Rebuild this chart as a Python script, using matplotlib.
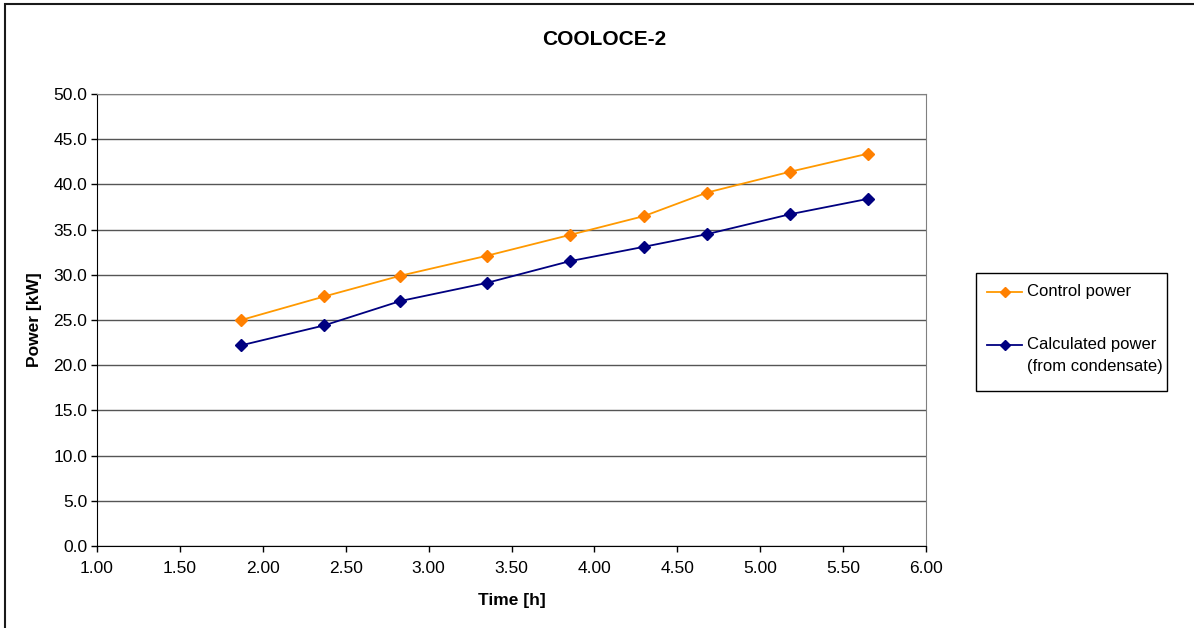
import matplotlib.pyplot as plt
from matplotlib.patches import Rectangle
from matplotlib.lines import Line2D

plt.rcParams['font.family'] = ['Liberation Sans', 'DejaVu Sans']

# data
time_h = [1.87, 2.37, 2.83, 3.35, 3.85, 4.30, 4.68, 5.18, 5.65]
control_power = [25.0, 27.6, 29.9, 32.1, 34.4, 36.5, 39.1, 41.4, 43.4]
calc_power = [22.2, 24.4, 27.1, 29.1, 31.5, 33.1, 34.5, 36.7, 38.4]

series_labels = ['Control power', 'Calculated power\n(from condensate)']
series_colors = ['#FF9900', '#000080']
marker_colors = ['#FF8000', '#000080']

y_ticks = [0, 5, 10, 15, 20, 25, 30, 35, 40, 45, 50]
x_ticks = [1.0, 1.5, 2.0, 2.5, 3.0, 3.5, 4.0, 4.5, 5.0, 5.5, 6.0]

W, H = 1194, 628
fig = plt.figure(figsize=(W / 100, H / 100), dpi=100)
ax = fig.add_axes([97 / W, 1 - 546 / H, 829 / W, 452 / H])

# outer chart border (right and bottom edges fall outside the image)
fig.patches.append(Rectangle((4.5 / W, -0.05), 1.1, 1.05 - 4.5 / H,
                             transform=fig.transFigure, fill=False,
                             edgecolor='#1a1a1a', linewidth=1.5))

for ys, lc, mc, lab in zip([control_power, calc_power], series_colors, marker_colors, series_labels):
    ax.plot(time_h, ys, color=lc, linewidth=1.3, marker='D', markersize=6,
            markerfacecolor=mc, markeredgecolor=mc, label=lab, zorder=3)

ax.set_xlim(1, 6)
ax.set_ylim(0, 50)
ax.set_xticks(x_ticks)
ax.set_xticklabels([f'{v:.2f}' for v in x_ticks])
ax.set_yticks(y_ticks)
ax.set_yticklabels([f'{v:.1f}' for v in y_ticks])
ax.tick_params(axis='both', labelsize=12.5, length=4, width=1, color='black', direction='out')
ax.tick_params(axis='x', pad=7)
ax.tick_params(axis='y', pad=3)

ax.yaxis.grid(True, color='#555555', linewidth=1)
ax.set_axisbelow(True)
for side in ['top', 'right']:
    ax.spines[side].set_color('#808080')
for side in ['left', 'bottom']:
    ax.spines[side].set_color('black')

ax.set_xlabel('Time [h]', fontsize=12.5, fontweight='bold', labelpad=12)
ax.set_ylabel('Power [kW]', fontsize=12.5, fontweight='bold', labelpad=8)
fig.text(0.506, 0.937, 'COOLOCE-2', fontsize=15, fontweight='bold', ha='center', va='center')

# legend, Excel style: handle aligned with the first line of each label
fig.patches.append(Rectangle((976 / W, 1 - 391 / H), 191 / W, 118 / H,
                             transform=fig.transFigure, fill=False,
                             edgecolor='black', linewidth=1))
for row_y, lc, mc, lab in zip([292, 345], series_colors, marker_colors, series_labels):
    fy = 1 - row_y / H
    fig.add_artist(Line2D([987 / W, 1022 / W], [fy, fy], color=lc, linewidth=1.3,
                          transform=fig.transFigure))
    fig.add_artist(Line2D([1005 / W], [fy], marker='D', markersize=5, color=mc,
                          transform=fig.transFigure))
    fig.text(1027 / W, fy + 8 / H, lab, fontsize=12, ha='left', va='top', linespacing=1.55)

fig.savefig('out.png', dpi=100)
